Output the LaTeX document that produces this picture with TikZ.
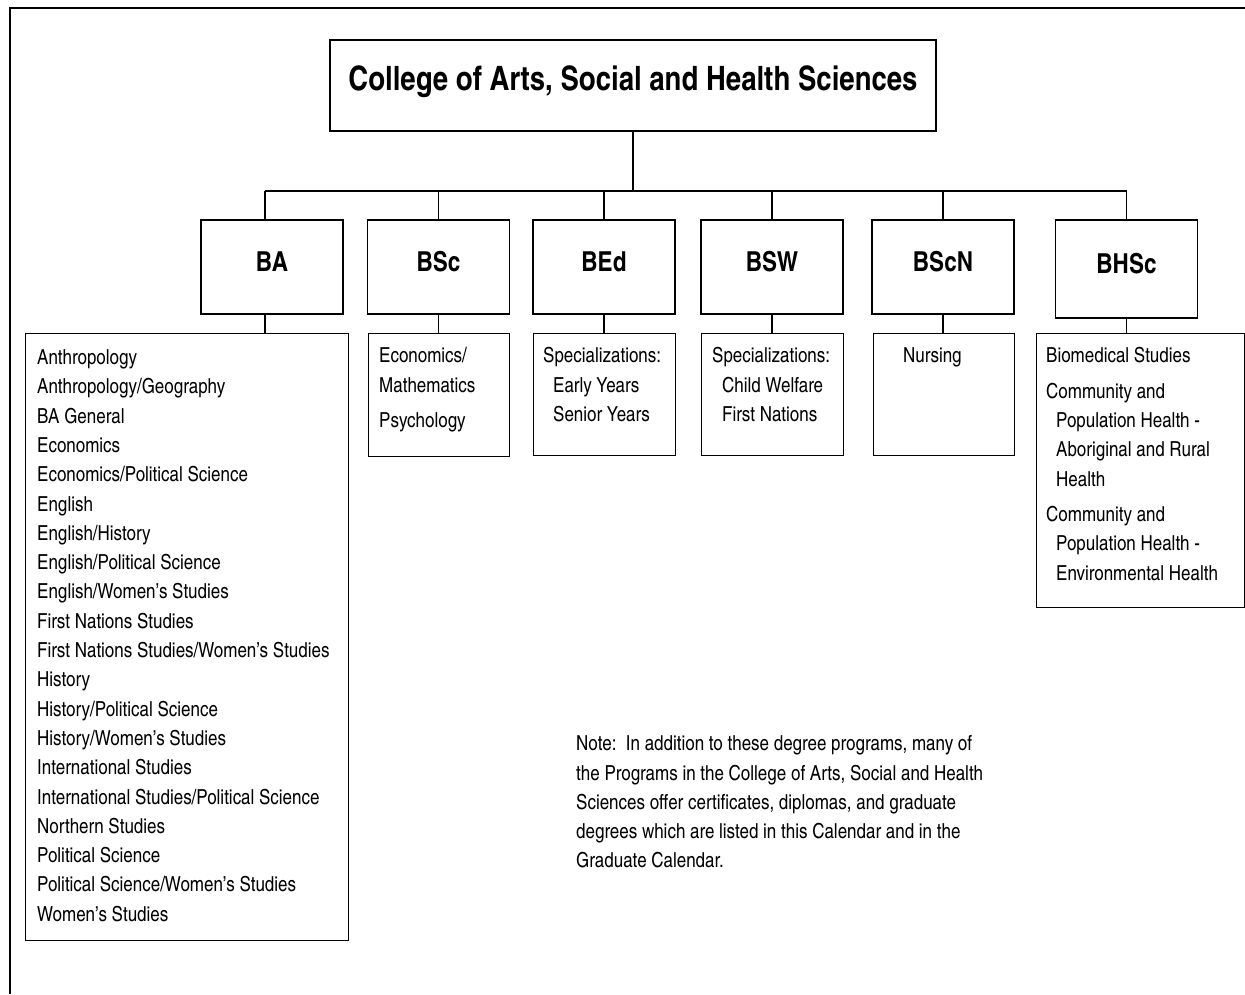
\documentclass[tikz,border=0pt]{standalone}
\usepackage{fontspec}
\setmainfont{texgyreheroscn}[Extension=.otf,UprightFont=*-regular,BoldFont=*-bold]
\usetikzlibrary{calc}
\tikzset{
	box/.style={draw, line width=1.1pt, inner sep=0pt},
	degree/.style={box, minimum width=142pt, minimum height=94pt, text height=20pt, text depth=12pt, font=\fontsize{27.5}{30}\selectfont\bfseries},
	listbox/.style={box, anchor=north west},
	listtext/.style={anchor=north west, align=left, inner sep=0pt, font=\fontsize{20.7}{29.3}\selectfont, execute at begin node=\strut},
	wire/.style={line width=1.1pt}
}
\newcommand{\ind}{\hspace*{10pt}}

\begin{document}
\begin{tikzpicture}[x=1pt, y=-1pt]
		%%%%% START %%%%%
		\useasboundingbox (0, 0) rectangle (1245, 994);
		
		\draw[line width=1.5pt] (1245, 8) -- (10, 8) -- (10, 994);
		
		\node[box, minimum width=606pt, minimum height=91pt, text height=26pt, text depth=17pt, font=\fontsize{33.6}{40}\selectfont\bfseries] (college) at (633, 85.5) {College of Arts, Social and Health Sciences};
		
		\node[degree] (BA) at (272, 267) {BA};
		\node[degree] (BSc) at (438.5, 267) {BSc};
		\node[degree] (BEd) at (604, 267) {BEd};
		\node[degree] (BSW) at (772, 267) {BSW};
		\node[degree] (BScN) at (943, 267) {BScN};
		\node[degree, minimum height=98pt] (BHSc) at (1126.5, 269) {BHSc};
		
		\node[listbox, minimum width=323pt, minimum height=607pt] (BAlist) at (25, 333) {};
		\node[listbox, minimum width=141pt, minimum height=123pt] (BSclist) at (368, 333) {};
		\node[listbox, minimum width=142pt, minimum height=122pt] (BEdlist) at (533, 333) {};
		\node[listbox, minimum width=142pt, minimum height=122pt] (BSWlist) at (701, 333) {};
		\node[listbox, minimum width=141pt, minimum height=122pt] (BScNlist) at (873, 333) {};
		\node[listbox, minimum width=208pt, minimum height=274pt] (BHSclist) at (1036, 333) {};
		
		% tree
		\coordinate (bus) at (633, 191);
		\draw[wire] (college.south) -- (bus);
		\draw[wire] ([xshift=-7pt]BA.north |- bus) -- (BHSc.north |- bus);
		\draw[wire] ([xshift=-7pt]BA.north |- bus) -- ([xshift=-7pt]BA.north);
		\draw[wire] ([xshift=-7pt]BA.south) -- ([xshift=-7pt]BA.south |- BAlist.north);
		\foreach \d in {BSc, BEd, BSW, BScN, BHSc} {
			\draw[wire] (\d.north |- bus) -- (\d.north);
			\draw[wire] (\d.south) -- (\d.south |- \d list.north);
		}
		
		% programs
		\node[listtext] (BAitems) at (37, 349.5) {Anthropology\\Anthropology/Geography\\BA General\\Economics\\Economics/Political Science\\English\\English/History\\English/Political Science\\English/Women’s Studies\\First Nations Studies\\First Nations Studies/Women’s Studies\\History\\History/Political Science\\History/Women’s Studies\\International Studies\\International Studies/Political Science\\Northern Studies\\Political Science\\Political Science/Women’s Studies\\Women’s Studies};
		\node[listtext] (BScitems) at (379, 347.5) {Economics/\\Mathematics\\[6pt]Psychology};
		\node[listtext] (BEditems) at (543, 347.5) {Specializations:\\\ind Early Years\\\ind Senior Years};
		\node[listtext] (BSWitems) at (712, 347.5) {Specializations:\\\ind Child Welfare\\\ind First Nations};
		\node[listtext] (BScNitems) at (903, 341.5) {Nursing};
		\node[listtext] (BHScitems) at (1046, 347.5) {Biomedical Studies\\[6pt]Community and\\\ind Population Health -\\\ind Aboriginal and Rural\\\ind Health\\[6pt]Community and\\\ind Population Health -\\\ind Environmental Health};
		
		\node[listtext] (note) at (576, 735.5) {Note:\ \ In addition to these degree programs, many of\\the Programs in the College of Arts, Social and Health\\Sciences offer certificates, diplomas, and graduate\\degrees which are listed in this Calendar and in the\\Graduate Calendar.};
		
		%%%%% END %%%%%
	\end{tikzpicture}
\end{document}
